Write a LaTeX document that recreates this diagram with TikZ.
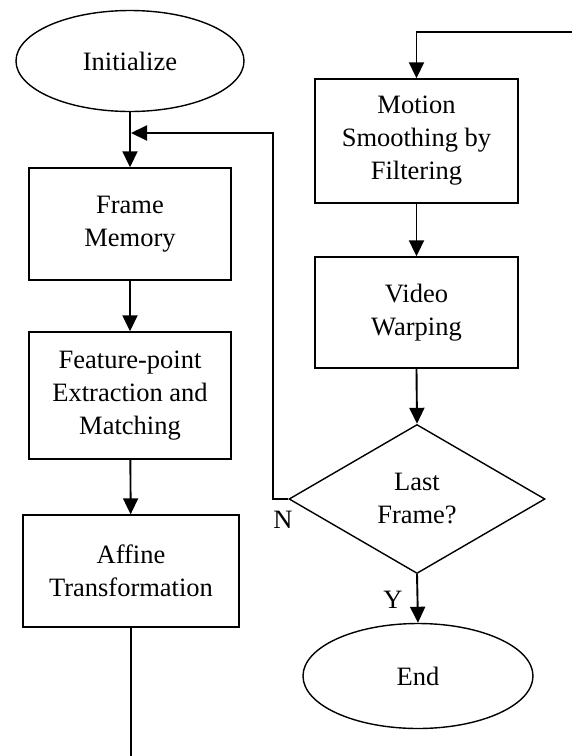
\documentclass[tikz,border=0pt]{standalone}
\usepackage{fontspec}
\setmainfont{Liberation Serif}
\usetikzlibrary{shapes.geometric,arrows.meta}
\begin{document}
\begin{tikzpicture}[x=1pt,y=-1pt,
  every node/.style={font=\fontsize{26.5}{33}\selectfont, align=center, inner sep=0pt},
  procbox/.style={draw, line width=1.4pt, rectangle},
  termnode/.style={draw, line width=1.4pt, ellipse},
  decnode/.style={draw, line width=1.4pt, diamond},
  conn/.style={line width=1.9pt},
  arr/.style={conn, -{Triangle[width=15pt,length=16pt]}},
  lbl/.style={font=\fontsize{26.5}{30}\selectfont}
]
\useasboundingbox (0,0) rectangle (572,756);

\node[termnode, minimum width=228pt, minimum height=101pt] (init) at (130,61) {Initialize};
\node[procbox, minimum width=202pt, minimum height=112pt] (frame) at (130,224) {Frame\\Memory};
\node[procbox, minimum width=202pt, minimum height=127pt] (feat) at (130,395.5) {Feature-point\\Extraction and\\Matching};
\node[procbox, minimum width=216pt, minimum height=112pt] (aff) at (131,571) {Affine\\Transformation};

\node[procbox, minimum width=203pt, minimum height=124pt] (mot) at (416.5,141) {Motion\\Smoothing by\\Filtering};
\node[procbox, minimum width=203pt, minimum height=111pt] (warp) at (416.5,312.5) {Video\\Warping};
\node[decnode, minimum width=256pt, minimum height=149pt] (dec) at (417,499) {Last\\Frame?};
\node[termnode, minimum width=230pt, minimum height=105pt] (fin) at (418,676) {End};

\coordinate (join) at (131,133);
\coordinate (loopc) at (273,133);
\coordinate (bot) at (130,756);
\coordinate (tr) at (572,32);
\coordinate (tl) at (416.5,32);

\draw[arr] (init.south) -- (frame.north);
\draw[arr] (frame) -- (feat);
\draw[arr] (feat) -- (aff);
\draw[conn] (aff.south) -- (aff.south |- bot);
\draw[arr] (dec.west) -| (loopc) -- (join);

\draw[arr] (tr) -- (tl) -- (mot.north);
\draw[arr] (mot) -- (warp);
\draw[arr] (warp.south) -- (dec.north);
\draw[arr] (dec.south) -- (fin.north);

\node[lbl] (nlab) at (283,520) {N};
\node[lbl] (ylab) at (393,600) {Y};
\end{tikzpicture}
\end{document}
